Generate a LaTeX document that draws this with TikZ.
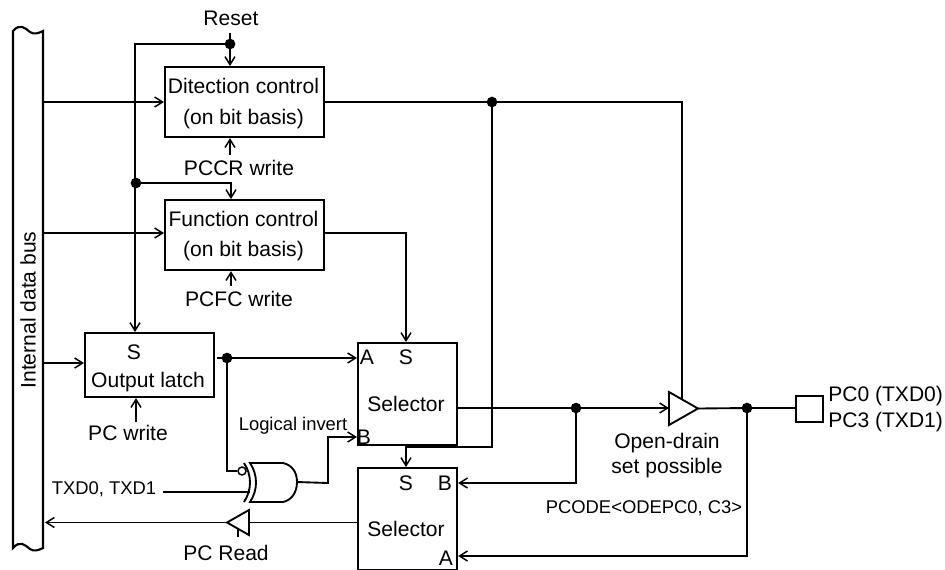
\documentclass[tikz,border=0pt]{standalone}
\usepackage{fontspec}
\setmainfont{Liberation Sans}
\usetikzlibrary{arrows.meta,calc}
\tikzset{
  x=0.75pt,y=-0.75pt,
  boxa/.style={draw,line width=1.6pt,anchor=north west,inner sep=0pt,align=center},
  wire/.style={line width=1.4pt},
  arr/.style={wire,-{Straight Barb[length=6pt,width=7.5pt,line width=1.1pt]}},
  lab/.style={inner sep=0pt,font=\fontsize{15.8}{18}\selectfont},
  dotn/.style={circle,fill=black,inner sep=0pt,minimum size=8pt},
  small/.style={inner sep=0pt,font=\fontsize{13.8}{16}\selectfont}
}
\begin{document}
\begin{tikzpicture}
\useasboundingbox (0,0) rectangle (945,569);
% bus
\draw[line width=1.6pt] (13,31) .. controls (20,23) and (25,28) .. (30,32) .. controls (34,35) and (39,33) .. (43,31) -- (43,548)
  .. controls (39,550) and (34,552) .. (30,549) .. controls (25,545) and (20,540) .. (13,548) -- cycle;
\node[lab,rotate=90] (busl) at (28,310) {Internal data bus};
\coordinate (bus1) at (43,102);
\coordinate (bus2) at (43,233);
\coordinate (bus3) at (43,363);
\coordinate (bus4) at (45,522.5);
% boxes
\node[boxa,minimum width=119.25pt,minimum height=52.5pt] (dir) at (164,66) {};
\node[lab] (dirt1) at (243.5,86) {Ditection control};
\node[lab] (dirt2) at (243.5,119) {(on bit basis)};
\node[boxa,minimum width=119.25pt,minimum height=52.5pt] (fun) at (164,199) {};
\node[lab] (funt1) at (243.5,219) {Function control};
\node[lab] (funt2) at (243.5,251) {(on bit basis)};
\node[boxa,minimum width=96.75pt,minimum height=48pt] (lat) at (84,332) {};
\node[lab] (latt1) at (134,352) {S};
\node[lab] (latt2) at (148,382) {Output latch};
\node[boxa,minimum width=74.25pt,minimum height=76.5pt] (sa) at (357,342) {};
\node[lab] (sa1) at (367,357) {A};
\node[lab] (sa2) at (406,357) {S};
\node[lab] (sa3) at (406,404) {Selector};
\node[lab] (sa4) at (364,437) {B};
\node[boxa,minimum width=74.25pt,minimum height=76.5pt] (sb) at (357,467) {};
\node[lab] (sb1) at (406,483) {S};
\node[lab] (sb2) at (445,483) {B};
\node[lab] (sb3) at (406,529) {Selector};
\node[lab] (sb4) at (446,558) {A};
\node[boxa,minimum width=20.25pt,minimum height=19.5pt] (pad) at (795,395) {};
% labels
\node[lab] (lreset) at (231,18) {Reset};
\node[lab] (lpccr) at (239,168) {PCCR write};
\node[lab] (lpcfc) at (239,299) {PCFC write};
\node[lab] (lpcw) at (128,433) {PC write};
\node[small] (linv) at (293,426) {Logical invert};
\node[small] (ltxd) at (104,489) {TXD0, TXD1};
\node[lab] (lread) at (226,553) {PC Read};
\node[lab] (lod1) at (667,443) {Open-drain};
\node[lab] (lod2) at (667,468) {set possible};
\node[small] (lpcode) at (644,508) {PCODE<ODEPC0, C3>};
\node[lab,anchor=west] (lpc0) at (828,396) {PC0 (TXD0)};
\node[lab,anchor=west] (lpc3) at (828,422) {PC3 (TXD1)};
% junction points
\node[dotn] (d1) at (230,44) {};
\node[dotn] (d2) at (136,183) {};
\node[dotn] (d3) at (492,102) {};
\node[dotn] (d4) at (227,358) {};
\node[dotn] (d5) at (576,408) {};
\node[dotn] (d6) at (747,408) {};
% buffers
\coordinate (bufT) at (669,392);
\coordinate (bufB) at (669,425);
\coordinate (bufTip) at (698,408.5);
\draw[line width=1.4pt] (bufT) -- (bufTip) -- (bufB) -- cycle;
\coordinate (rT) at (249,510);
\coordinate (rB) at (249,535);
\coordinate (rTip) at (227,522.5);
\draw[line width=1.4pt] (rT) -- (rTip) -- (rB) -- cycle;
\coordinate (rEn) at (238,529);
\coordinate (rEn2) at (238,537);
\draw[wire] (rEn) -- (rEn2);
% gate
\coordinate (gOut) at (297,482);
\coordinate (gIn2) at (250,492);
\draw[line width=1.4pt] (244,463) .. controls (252,475) and (252,490) .. (244,502);
\draw[line width=1.4pt] (250,463) .. controls (258,475) and (258,490) .. (250,502)
  -- (283,502) .. controls (292,500) and (297,492) .. (297,482)
  .. controls (297,472) and (292,465) .. (283,463) -- cycle;
\node[circle,draw,line width=1.1pt,fill=white,inner sep=0pt,minimum size=6pt] (bub) at (242,471) {};
% connectors
\coordinate (r0) at (230,33);
\draw[arr] (r0) -- (dir.north -| r0);
\coordinate (c1) at (135,44);
\draw[arr] (d1.center) -- (c1) -- (lat.north -| c1);
\coordinate (c2) at (231,183);
\draw[arr] (d2.center) -- (c2) -- (fun.north -| c2);
\coordinate (c3) at (230,155);
\draw[arr] (c3) -- (dir.south -| c3);
\coordinate (c4) at (231,286);
\draw[arr] (c4) -- (fun.south -| c4);
\coordinate (c5) at (136,422);
\draw[arr] (c5) -- (lat.south -| c5);
\draw[arr] (bus1) -- (dir.west |- bus1);
\draw[arr] (bus2) -- (fun.west |- bus2);
\draw[arr] (bus3) -- (lat.west |- bus3);
% direction output
\coordinate (c6) at (682,102);
\coordinate (c7) at (682,399);
\draw[wire] (dir.east |- c6) -- (c6) -- (c7);
\coordinate (c8) at (492,447);
\coordinate (c9) at (406,447);
\draw[arr] (d3.center) -- (c8) -- (c9) -- (sb.north -| c9);
% function output
\coordinate (c10) at (406,233);
\draw[arr] (fun.east |- c10) -- (c10) -- (sa.north -| c10);
% latch output
\coordinate (c11) at (217,358);
\draw[wire] (c11) -- (d4.center);
\draw[arr] (d4.center) -- (sa.west |- d4);
\draw[wire] (d4.center) -- (227,471) -- (bub.west);
\coordinate (c12) at (163,492);
\draw[wire] (c12) -- (gIn2);
\coordinate (c13) at (328,483);
\coordinate (c14) at (328,437);
\draw[arr] (gOut) -- (c13) -- (c14) -- (sa.west |- c14);
% selector outputs
\draw[wire] (sa.east |- d5) -- (d5.center);
\draw[arr] (d5.center) -- (bufT |- d5);
\draw[wire] (bufTip) -- (d6.center) -- (pad.west |- d6);
\coordinate (c16) at (576,483);
\draw[arr] (d5.center) -- (c16) -- (sb.east |- c16);
\coordinate (c17) at (747,556);
\draw[arr] (d6.center) -- (c17) -- (sb.east |- c17);
\coordinate (c18) at (357,522.5);
\draw[wire] (c18) -- (rT |- c18);
\draw[arr] (rTip) -- (bus4 |- rTip);
\end{tikzpicture}
\end{document}
